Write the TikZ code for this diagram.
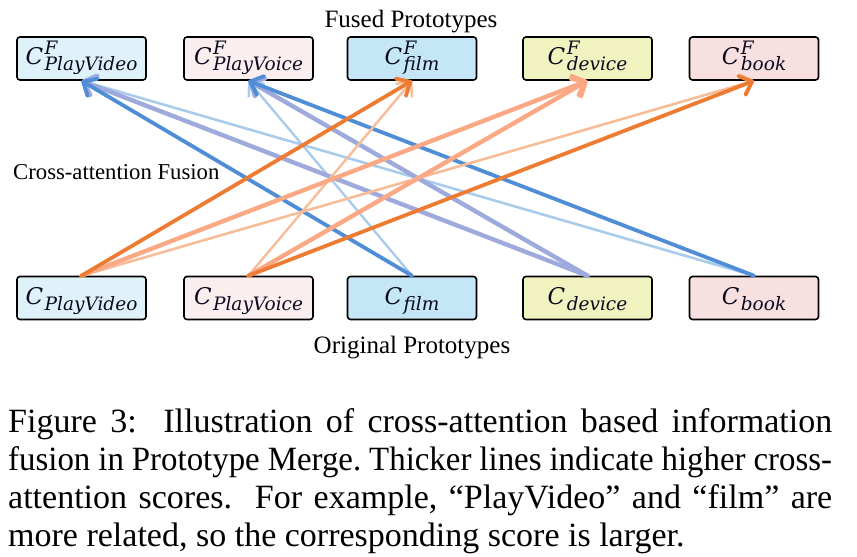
\documentclass[tikz,border=0pt]{standalone}
\usepackage{fontspec}
\setmainfont{Liberation Serif}
\newfontfamily\protofont{DejaVu Serif}
\usetikzlibrary{arrows.meta}
\definecolor{fPV}{HTML}{DFF2FA}
\definecolor{fPVo}{HTML}{FBEEEE}
\definecolor{fFilm}{HTML}{C4E6F6}
\definecolor{fDev}{HTML}{F0F3C0}
\definecolor{fBook}{HTML}{F8E0E0}
\definecolor{bdark}{HTML}{4F8ED6}
\definecolor{bmid}{HTML}{9DAADB}
\definecolor{blight}{HTML}{A9CCEC}
\definecolor{odark}{HTML}{EE7B32}
\definecolor{osal}{HTML}{FBA985}
\definecolor{olight}{HTML}{F7BD98}
\definecolor{ink}{HTML}{0A0A1E}
\newcommand{\pcsym}[2]{{\protofont\itshape\color{ink}{\fontsize{23}{23}\selectfont C}\kern1.5pt{\fontsize{18.5}{19}\selectfont\rlap{\raisebox{10pt}{#1}}\raisebox{-6pt}{#2}}}}
\newcommand{\capfont}{\fontsize{34}{38}\selectfont\frenchspacing\spaceskip=.25em plus .3em minus .12em\relax}
\tikzset{
  proto/.style={draw=black, line width=1.6pt, rounded corners=3pt, minimum width=129pt, minimum height=43pt, inner sep=0pt, text height=23pt, text depth=11pt},
  lbl/.style={inner sep=0pt, anchor=base},
  conn/.style={line cap=round, -{Straight Barb[length=11pt,width=20pt,round]}},
}
\begin{document}
\begin{tikzpicture}[x=1pt,y=-1pt]
\useasboundingbox (0,0) rectangle (857,557);
% top boxes
\node[proto, fill=fPV]  (t1) at (81.5,58.5) {\pcsym{F}{PlayVideo}};
\node[proto, fill=fPVo] (t2) at (248.5,58.5) {\pcsym{F}{PlayVoice}};
\node[proto, fill=fFilm](t3) at (412,58.5) {\pcsym{F}{film}};
\node[proto, fill=fDev] (t4) at (587.5,58.5) {\pcsym{F}{device}};
\node[proto, fill=fBook](t5) at (754,58.5) {\pcsym{F}{book}};
% bottom boxes
\node[proto, fill=fPV]  (b1) at (81.5,298) {\pcsym{}{PlayVideo}};
\node[proto, fill=fPVo] (b2) at (248.5,298) {\pcsym{}{PlayVoice}};
\node[proto, fill=fFilm](b3) at (412,298) {\pcsym{}{film}};
\node[proto, fill=fDev] (b4) at (587.5,298) {\pcsym{}{device}};
\node[proto, fill=fBook](b5) at (754,298) {\pcsym{}{book}};
% labels
\node[lbl, font=\fontsize{25}{30}\selectfont] (fused) at (411,27) {Fused Prototypes};
\node[lbl, font=\fontsize{25}{30}\selectfont] (orig) at (412,353) {Original Prototypes};
\node[lbl, anchor=base west, font=\fontsize{22.7}{27}\selectfont] (cross) at (13,179) {Cross-attention Fusion};
% connectors
\draw[conn, blight, line width=2.6pt] (b5.north) -- (t1.south);
\draw[conn, blight, line width=2.4pt] (b3.north) -- (t2.south);
\draw[conn, bmid, line width=4.4pt] (b4.north) -- (t1.south);
\draw[conn, bmid, line width=4.4pt] (b4.north) -- (t2.south);
\draw[conn, bdark, line width=3.8pt] (b3.north) -- (t1.south);
\draw[conn, bdark, line width=3.8pt] (b5.north) -- (t2.south);
\draw[conn, olight, line width=2.6pt] (b1.north) -- (t5.south);
\draw[conn, olight, line width=2.4pt] (b2.north) -- (t3.south);
\draw[conn, osal, line width=4.4pt] (b1.north) -- (t4.south);
\draw[conn, osal, line width=4.4pt] (b2.north) -- (t4.south);
\draw[conn, odark, line width=3.8pt] (b1.north) -- (t3.south);
\draw[conn, odark, line width=3.8pt] (b2.north) -- (t5.south);
% caption
\node[inner sep=0pt, anchor=north west, align=left, font=\capfont] (cap) at (8,408)
{\hbox to 824pt{Figure 3:\ \ Illustration of cross-attention based information}\\
\scalebox{0.967}[1]{\hbox to 852pt{fusion in Prototype Merge. Thicker lines indicate higher cross-}}\\
\hbox to 824pt{attention scores.\ \ For example, ``PlayVideo'' and ``film'' are}\\
more related, so the corresponding score is larger.};
\end{tikzpicture}
\end{document}
